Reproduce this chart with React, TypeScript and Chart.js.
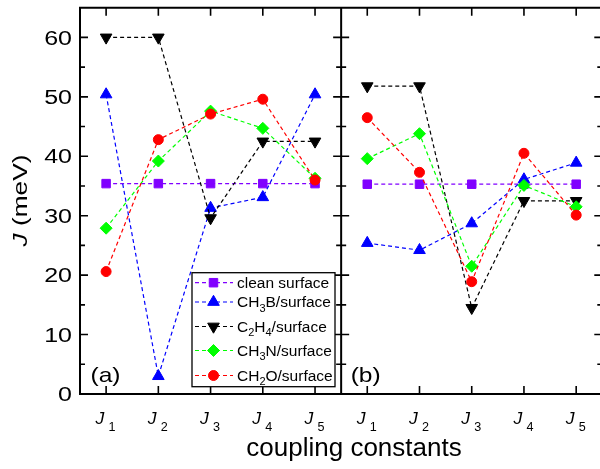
import React, { useEffect, useRef } from 'react';
import { Chart, registerables } from 'chart.js';
import { drawPoint } from 'chart.js/helpers';

Chart.register(...registerables);

// ---- data ----
const leftX = [1, 2, 3, 4, 5];
const rightX = [6, 7, 8, 9, 10];
const xTickSubs = ['1', '2', '3', '4', '5', '1', '2', '3', '4', '5'];
const yTickValues = [0, 10, 20, 30, 40, 50, 60];
const seriesLabels = ['clean surface', 'CH_3B/surface', 'C_2H_4/surface', 'CH_3N/surface', 'CH_2O/surface'];

const cleanA = [35.4, 35.4, 35.4, 35.4, 35.4];
const cleanB = [35.3, 35.3, 35.3, 35.3, 35.3];
const ch3bA = [50.4, 3.0, 31.3, 33.1, 50.4];
const ch3bB = [25.4, 24.2, 28.7, 36.1, 38.9];
const c2h4A = [60.0, 60.0, 29.6, 42.5, 42.5];
const c2h4B = [51.8, 51.8, 14.5, 32.5, 32.5];
const ch3nA = [27.9, 39.2, 47.6, 44.7, 36.3];
const ch3nB = [39.6, 43.8, 21.5, 35.1, 31.5];
const ch2oA = [20.6, 42.8, 47.1, 49.6, 36.0];
const ch2oB = [46.5, 37.3, 18.9, 40.5, 30.1];

const seriesA = [cleanA, ch3bA, c2h4A, ch3nA, ch2oA];
const seriesB = [cleanB, ch3bB, c2h4B, ch3nB, ch2oB];

// ---- styles ----
const styles = [
  { color: '#8000ff', pointStyle: 'rect', radius: 6, rotation: 0, order: 5 },
  { color: '#0000ff', pointStyle: 'triangle', radius: 6.7, rotation: 0, order: 4 },
  { color: '#000000', pointStyle: 'triangle', radius: 6.7, rotation: 180, order: 3 },
  { color: '#00ff00', pointStyle: 'rectRot', radius: 6, rotation: 0, order: 2 },
  { color: '#ff0000', pointStyle: 'circle', radius: 5, rotation: 0, order: 1 },
];
const FONT = '"Liberation Sans", Arial, sans-serif';
const DASH = [4, 3];

function points(a: number[], b: number[]) {
  return [
    ...a.map((v, i) => ({ x: leftX[i], y: v })),
    { x: 5.5, y: null },
    ...b.map((v, i) => ({ x: rightX[i], y: v })),
  ];
}

function txt(ctx: CanvasRenderingContext2D, s: string, x: number, y: number, font: string, sx = 1, align: CanvasTextAlign = 'left') {
  ctx.save();
  ctx.translate(x, y);
  ctx.scale(sx, 1);
  ctx.font = font;
  ctx.textAlign = align;
  ctx.textBaseline = 'alphabetic';
  ctx.fillStyle = '#000';
  ctx.fillText(s, 0, 0);
  ctx.restore();
}

function rich(ctx: CanvasRenderingContext2D, label: string, x: number, y: number, mainFont: string, subFont: string, subDy: number) {
  let cx = x;
  let i = 0;
  ctx.save();
  ctx.fillStyle = '#000';
  ctx.textAlign = 'left';
  ctx.textBaseline = 'alphabetic';
  while (i < label.length) {
    if (label[i] === '_') {
      const ch = label[i + 1];
      ctx.font = subFont;
      ctx.fillText(ch, cx, y + subDy);
      cx += ctx.measureText(ch).width;
      i += 2;
    } else {
      let j = i;
      while (j < label.length && label[j] !== '_') j++;
      const s = label.slice(i, j);
      ctx.font = mainFont;
      ctx.fillText(s, cx, y);
      cx += ctx.measureText(s).width;
      i = j;
    }
  }
  ctx.restore();
}

const decorPlugin = {
  id: 'decor',
  afterDatasetsDraw(chart: any) {
    const ctx: CanvasRenderingContext2D = chart.ctx;
    const { left, right, top, bottom } = chart.chartArea;
    const xs = chart.scales.x;
    const ys = chart.scales.y;
    const midX = xs.getPixelForValue(5.5);

    ctx.save();
    ctx.strokeStyle = '#000';
    ctx.lineWidth = 2;
    ctx.beginPath();
    ctx.rect(left, top, right - left, bottom - top);
    ctx.moveTo(midX, top);
    ctx.lineTo(midX, bottom);
    ctx.stroke();

    // y ticks (inward)
    ctx.lineWidth = 1.6;
    ctx.beginPath();
    for (let v = 5; v <= 60; v += 5) {
      const y = ys.getPixelForValue(v);
      const len = v % 10 === 0 ? 8 : 5;
      ctx.moveTo(left, y); ctx.lineTo(left + len, y);
      ctx.moveTo(midX - len, y); ctx.lineTo(midX + len, y);
      ctx.moveTo(right - len, y); ctx.lineTo(right, y);
    }
    // x ticks
    [...leftX, ...rightX].forEach((v) => {
      const x = xs.getPixelForValue(v);
      ctx.moveTo(x, top); ctx.lineTo(x, top + 8);
      ctx.moveTo(x, bottom - 8); ctx.lineTo(x, bottom);
    });
    ctx.stroke();
    ctx.restore();

    // y tick labels
    yTickValues.forEach((v) => {
      const y = ys.getPixelForValue(v);
      txt(ctx, String(v), left - 8, y + 7.2, `20px ${FONT}`, 1.25, 'right');
    });

    // x tick labels
    [...leftX, ...rightX].forEach((v, i) => {
      const x = xs.getPixelForValue(v);
      txt(ctx, 'J', x - 10.5, bottom + 30, `italic 16px ${FONT}`, 1.1);
      txt(ctx, xTickSubs[i], x + 2.5, bottom + 37, `12px ${FONT}`, 1.05);
    });

    // panel labels
    txt(ctx, '(a)', left + 10.5, bottom - 12.5, `21px ${FONT}`, 1.17);
    txt(ctx, '(b)', midX + 9.5, bottom - 12.5, `21px ${FONT}`, 1.17);

    // x title
    txt(ctx, 'coupling constants', 354, 456, `26px ${FONT}`, 1, 'center');

    // y title
    ctx.save();
    ctx.translate(27, 200.5);
    ctx.rotate(-Math.PI / 2);
    ctx.scale(1.25, 1);
    ctx.fillStyle = '#000';
    ctx.textBaseline = 'alphabetic';
    ctx.font = `italic 21px ${FONT}`;
    const wJ = ctx.measureText('J').width;
    ctx.font = `21px ${FONT}`;
    const wR = ctx.measureText(' (meV)').width;
    const sx0 = -(wJ + wR) / 2;
    ctx.font = `italic 21px ${FONT}`;
    ctx.fillText('J', sx0, 0);
    ctx.font = `21px ${FONT}`;
    ctx.fillText(' (meV)', sx0 + wJ, 0);
    ctx.restore();

    // legend
    const bx = 192, by = 272.7, bw = 143, bh = 114;
    ctx.save();
    ctx.fillStyle = '#fff';
    ctx.fillRect(bx, by, bw, bh);
    ctx.strokeStyle = '#000';
    ctx.lineWidth = 1.3;
    ctx.strokeRect(bx, by, bw, bh);
    ctx.restore();
    const baselines = [287.7, 307, 331.5, 355.5, 380.5];
    seriesLabels.forEach((lab, k) => {
      const st = styles[k];
      const yb = baselines[k];
      const ym = yb - 5;
      ctx.save();
      ctx.strokeStyle = st.color;
      ctx.lineWidth = 1.2;
      ctx.setLineDash(DASH);
      ctx.beginPath();
      ctx.moveTo(195, ym);
      ctx.lineTo(233, ym);
      ctx.stroke();
      ctx.setLineDash([]);
      ctx.fillStyle = st.color;
      ctx.strokeStyle = st.color;
      ctx.lineWidth = 1;
      drawPoint(ctx, { pointStyle: st.pointStyle as any, radius: st.radius, rotation: st.rotation, borderWidth: 1 }, 213.5, ym);
      ctx.restore();
      rich(ctx, lab, 237, yb, `15.5px ${FONT}`, `11px ${FONT}`, 4.5);
    });
  },
};

export default function App() {
  const ref = useRef<HTMLCanvasElement | null>(null);
  useEffect(() => {
    if (!ref.current) return;
    const chart = new Chart(ref.current, {
      type: 'line',
      data: {
        datasets: seriesLabels.map((lab, k) => ({
          label: lab,
          data: points(seriesA[k], seriesB[k]) as any,
          borderColor: styles[k].color,
          backgroundColor: styles[k].color,
          pointBackgroundColor: styles[k].color,
          pointBorderColor: styles[k].color,
          pointStyle: styles[k].pointStyle as any,
          pointRadius: styles[k].radius,
          pointRotation: styles[k].rotation,
          pointBorderWidth: 1,
          borderWidth: 1.2,
          borderDash: DASH,
          spanGaps: false,
          fill: false,
          tension: 0,
          order: styles[k].order,
        })),
      },
      options: {
        responsive: false,
        animation: false,
        devicePixelRatio: 1,
        layout: { padding: { left: 80, right: 4, top: 7, bottom: 75 } },
        scales: {
          x: { type: 'linear', min: 0.5, max: 10.5, display: false },
          y: { type: 'linear', min: 0, max: 65, display: false },
        },
        plugins: { legend: { display: false }, tooltip: { enabled: false } },
        events: [],
      },
      plugins: [decorPlugin],
    });
    return () => chart.destroy();
  }, []);
  return (
    <div style={{ position: 'fixed', left: 0, top: 0, width: 600, height: 469, overflow: 'hidden', background: '#fff' }}>
      <canvas ref={ref} width={610} height={469} style={{ display: 'block', width: 610, height: 469 }} />
    </div>
  );
}
